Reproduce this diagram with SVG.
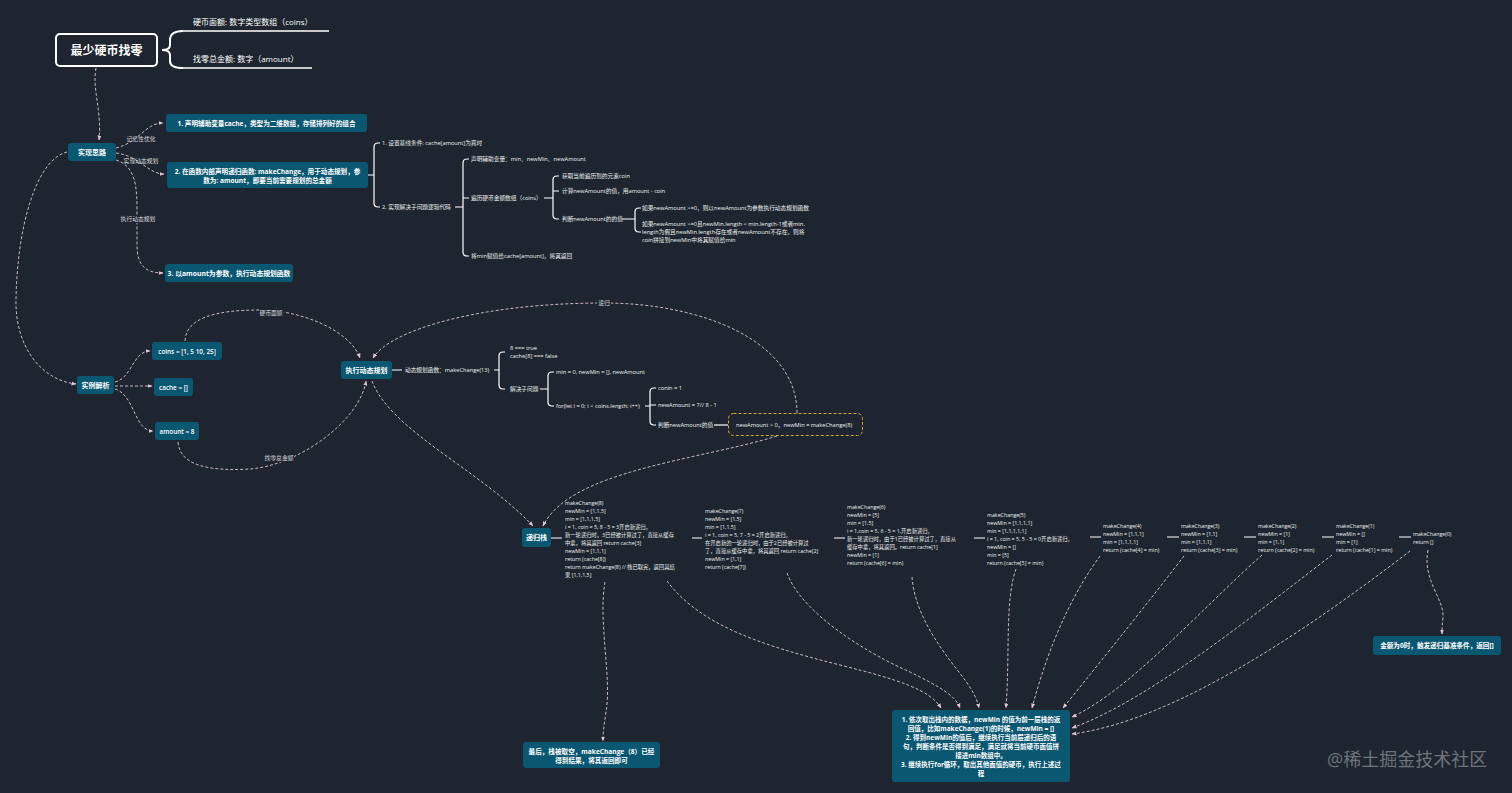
<svg xmlns="http://www.w3.org/2000/svg" width="1512" height="793" viewBox="0 0 1512 793">
<defs>
<style>
text{font-family:"Open Sans","Noto Sans CJK SC",sans-serif;dominant-baseline:central}
.n rect{fill:#0a5772}
.nt{fill:#fff;font-weight:700;font-size:7px;text-anchor:middle}
.tt{fill:#eef0f2;font-size:5.7px}
.st{fill:#eef0f2;font-size:5.3px}
.lb{fill:#d8d8dc;font-size:5.8px;text-anchor:middle}
.d{fill:none;stroke:#dcc8d2;stroke-width:0.9;stroke-dasharray:3 2;marker-end:url(#ah)}
.b{fill:none;stroke:#fff;stroke-width:1.2}
.lbg{fill:#1e2530}
.bt{font-size:6.5px}
</style>
<marker id="ah" viewBox="0 0 10 10" refX="9" refY="5" markerWidth="5" markerHeight="5" markerUnits="userSpaceOnUse" orient="auto"><path d="M0,1 L10,5 L0,9 z" fill="#dcc8d2"/></marker>
</defs>
<rect width="1512" height="793" fill="#1e2530"/>

<g id="connectors">
<path class="d" d="M96,68 C92,90 102,110 99,140"/>
<path class="d" d="M116,148 C140,142 145,123 163,123"/>
<path class="d" d="M116,153 C140,156 148,174 164,174"/>
<path class="d" d="M116,160 C135,166 137,185 137,210 L137,245 C137,265 145,273 163,273"/>
<path class="d" d="M67,152 C35,160 17,230 16,300 C15,345 40,380 76,384"/>
<path class="d" d="M115,382 C132,378 133,351 150,351"/>
<path class="d" d="M115,386 L152,386"/>
<path class="d" d="M115,389 C135,395 134,431 153,431"/>
<path class="d" d="M185,341 C186,318 215,310 260,310 C300,310 350,330 360,358"/>
<path class="d" d="M178,442 C180,468 215,471 250,469 C300,465 360,420 366,381"/>
<path class="d" d="M797,413 C797,340 700,303 604,303 C480,303 390,330 373,358"/>
<path class="d" d="M372,381 C390,430 480,470 533,526"/>
<path class="d" d="M777,436 C700,460 570,470 543,526"/>
<path class="d" d="M605,582 C598,620 612,680 606,712 C604,725 603,732 603,741"/>
<path class="d" d="M667,581 C700,625 760,645 840,665 C900,680 930,690 941,708"/>
<path class="d" d="M787,573 C800,610 860,650 910,672 C940,687 955,695 960,708"/>
<path class="d" d="M912,577 C915,620 950,660 965,680 C972,690 977,698 979,708"/>
<path class="d" d="M1016,569 C1005,600 1010,650 1006,708"/>
<path class="d" d="M1100,556 C1075,590 1050,640 1032,708"/>
<path class="d" d="M1184,556 C1150,600 1110,650 1063,708"/>
<path class="d" d="M1262,555 C1200,610 1130,690 1072,717"/>
<path class="d" d="M1332,555 C1260,610 1150,700 1072,728"/>
<path class="d" d="M1410,551 C1320,620 1180,720 1072,734"/>
<path class="d" d="M1428,550 C1422,580 1445,600 1443,618 C1442,625 1442,630 1442,634"/>
<text class="lb" x="141" y="139">记忆性优化</text>
<text class="lb" x="141" y="161">实现动态规划</text>
<rect class="lbg" x="120" y="215" width="36" height="8"/>
<text class="lb" x="138" y="219">执行动态规划</text>
<rect class="lbg" x="259" y="309" width="25" height="8"/>
<text class="lb" x="271" y="313">硬币面额</text>
<rect class="lbg" x="264" y="454" width="30" height="8"/>
<text class="lb" x="279" y="458">找零总金额</text>
<rect class="lbg" x="597" y="299" width="14" height="8"/>
<text class="lb" x="604" y="303">递归</text>
<path class="b" d="M368,175 H374 M380,143 H378 Q374,143 374,147 V203 Q374,207 378,207 H380"/>
<path class="b" d="M455,207 H463 M469,159 H467 Q463,159 463,163 V252 Q463,256 467,256 H469 M463,198 H469"/>
<path class="b" d="M544,198 H553 M559,176 H557 Q553,176 553,180 V215 Q553,219 557,219 H559 M553,191 H559"/>
<path class="b" d="M622,219 H635 M641,208 H639 Q635,208 635,212 V228 Q635,232 639,232 H641"/>
<path class="b" d="M392,370 H402 M494,370 H499 M505,352 H503 Q499,352 499,356 V385 Q499,389 503,389 H505"/>
<path class="b" d="M540,389 H548 M554,372 H552 Q548,372 548,376 V402 Q548,406 552,406 H554"/>
<path class="b" d="M645,406 H650 M656,388 H654 Q650,388 650,392 V421 Q650,425 654,425 H656 M650,405 H656"/>
<path class="b" d="M714,425 H728"/>
<path class="b" d="M551,538 H562 M692,538 H702 M834,538 H845 M974,538 H985 M1090,537 H1101 M1167,537 H1179 M1244,537 H1256 M1322,537 H1334 M1399,537 H1411"/>
<path d="M183,31 C174,31 170,34 170,40 L170,45 C170,49 167,50 162,50 C167,50 170,51 170,55 L170,61 C170,66 174,68 183,68" fill="none" stroke="#fff" stroke-width="2"/>
<path d="M183,31 H329 M183,68 H312" stroke="#fff" stroke-width="1.6" fill="none"/>
</g>

<g id="title">
<rect x="56" y="34" width="101" height="32" rx="4" fill="#1e2530" stroke="#fff" stroke-width="2"/>
<text x="106.5" y="50" style="fill:#fff;font-weight:700;font-size:12px;text-anchor:middle">最少硬币找零</text>
</g>
<g id="coins-def"><text x="193" y="21" style="fill:#fff;font-size:8px">硬币面额: 数字类型数组（coins）</text></g>
<g id="amount-def"><text x="193" y="58" style="fill:#fff;font-size:8px">找零总金额: 数字（amount）</text></g>

<g id="idea" class="n"><rect x="68" y="143" width="48" height="18" rx="3"/><text class="nt" x="92" y="152">实现思路</text></g>
<g id="step1" class="n"><rect x="166" y="114" width="201" height="18" rx="3"/><text class="nt" x="266.5" y="123" style="font-size:6.6px">1. 声明辅助变量cache，类型为二维数组，存储排列好的组合</text></g>
<g id="step2" class="n"><rect x="167" y="162" width="201" height="26" rx="3"/>
<text class="nt" x="267.5" y="171" style="font-size:6.6px">2. 在函数内部声明递归函数: makeChange，用于动态规划，参</text>
<text class="nt" x="267.5" y="180" style="font-size:6.6px">数为: amount，即要当前需要规划的总金额</text></g>
<g id="step3" class="n"><rect x="165" y="264" width="128" height="18" rx="3"/><text class="nt" x="229" y="273" style="font-size:6.8px">3. 以amount为参数，执行动态规划函数</text></g>

<g id="step2-tree">
<text class="tt" x="382" y="143">1. 设置基线条件: cache[amount]为真时</text>
<text class="tt" x="382" y="207">2. 实现解决子问题逻辑代码</text>
<text class="tt" x="471" y="159">声明辅助变量：min、newMin、newAmount</text>
<text class="tt" x="471" y="198">遍历硬币金额数组（coins）</text>
<text class="tt" x="471" y="256">将min赋值给cache[amount]，将其返回</text>
<text class="tt" x="562" y="176">获取当前遍历到的元素coin</text>
<text class="tt" x="562" y="191">计算newAmount的值，用amount - coin</text>
<text class="tt" x="562" y="219">判断newAmount的的值</text>
<text class="tt" x="642" y="208">如果newAmount &gt;=0，则以newAmount为参数执行动态规划函数</text>
<text class="tt" x="642" y="224">如果newAmount &gt;=0且newMin.length &lt; min.length-1或者min.</text>
<text class="tt" x="642" y="232">length为假且newMin.length存在或者newAmount不存在，则将</text>
<text class="tt" x="642" y="240">coin拼接到newMin中将其赋值给min</text>
</g>

<g id="example" class="n"><rect x="77" y="376" width="37" height="18" rx="3"/><text class="nt" x="95.5" y="385">实例解析</text></g>
<g id="coins" class="n"><rect x="152" y="342" width="70" height="18" rx="3"/><text class="nt" x="187" y="351" style="font-size:6.4px;font-weight:600">coins = [1, 5 10, 25]</text></g>
<g id="cache" class="n"><rect x="154" y="378" width="39" height="18" rx="3"/><text class="nt" x="173.5" y="387" style="font-size:6.4px;font-weight:600">cache = []</text></g>
<g id="amount" class="n"><rect x="155" y="422" width="44" height="18" rx="3"/><text class="nt" x="177" y="431" style="font-size:6.4px;font-weight:600">amount = 8</text></g>
<g id="run" class="n"><rect x="341" y="361" width="51" height="18" rx="3"/><text class="nt" x="366.5" y="370">执行动态规划</text></g>

<g id="run-tree">
<text class="tt" x="405" y="370">动态规划函数：makeChange(13)</text>
<text class="tt" x="510" y="348">8 === true</text>
<text class="tt" x="510" y="356">cache[8] === false</text>
<text class="tt" x="510" y="389">解决子问题</text>
<text class="tt" x="556" y="372">min = 0, newMin = [], newAmount</text>
<text class="tt" x="556" y="406">for(let i = 0; i &lt; coins.length; i++)</text>
<text class="tt" x="658" y="388">conin = 1</text>
<text class="tt" x="658" y="405">newAmount = 7// 8 - 1</text>
<text class="tt" x="658" y="425">判断newAmount的值</text>
</g>
<g id="judge">
<rect x="728.5" y="413.5" width="134" height="22" rx="5" fill="none" stroke="#d4a72c" stroke-width="1" stroke-dasharray="3 2"/>
<text class="tt" x="736" y="425">newAmount &gt; 0，newMin = makeChange(8)</text>
</g>

<g id="stack" class="n"><rect x="522" y="528" width="29" height="19" rx="3"/><text class="nt" x="536.5" y="537.5">递归栈</text></g>

<g id="frame8">
<text class="st" x="565" y="503">makeChange(8)</text>
<text class="st" x="565" y="511">newMin = [1,1,5]</text>
<text class="st" x="565" y="519">min = [1,1,1,5]</text>
<text class="st" x="565" y="527">i = 1, coin = 5, 8 - 5 = 3开启新递归，</text>
<text class="st" x="565" y="535">新一轮递归时，3已经被计算过了，直接从缓存</text>
<text class="st" x="565" y="543">中拿，将其返回 return cache[3]</text>
<text class="st" x="565" y="551">newMin = [1,1,1]</text>
<text class="st" x="565" y="559">return (cache[8])</text>
<text class="st" x="565" y="567">return makeChange(8) // 栈已取完，返回其结</text>
<text class="st" x="565" y="575">果 [1,1,1,5]</text>
</g>
<g id="frame7">
<text class="st" x="705" y="511">makeChange(7)</text>
<text class="st" x="705" y="519">newMin = [1,5]</text>
<text class="st" x="705" y="527">min = [1,1,5]</text>
<text class="st" x="705" y="535">i = 1, coin = 5, 7 - 5  = 2开启新递归，</text>
<text class="st" x="705" y="543">在开启新的一轮递归时，由于2已经被计算过</text>
<text class="st" x="705" y="551">了，直接从缓存中拿，将其返回 return cache[2]</text>
<text class="st" x="705" y="559">newMin = [1,1]</text>
<text class="st" x="705" y="567">return (cache[7])</text>
</g>
<g id="frame6">
<text class="st" x="847" y="507">makeChange(6)</text>
<text class="st" x="847" y="515">newMin = [5]</text>
<text class="st" x="847" y="523">min = [1,5]</text>
<text class="st" x="847" y="531">i = 1,coin = 5, 6 - 5 = 1,开启新递归，</text>
<text class="st" x="847" y="539">新一轮递归时，由于1已经被计算过了，直接从</text>
<text class="st" x="847" y="547">缓存中拿，将其返回。return cache[1]</text>
<text class="st" x="847" y="555">newMin = [1]</text>
<text class="st" x="847" y="563">return (cache[6] = min)</text>
</g>
<g id="frame5">
<text class="st" x="987" y="515">makeChange(5)</text>
<text class="st" x="987" y="523">newMin = [1,1,1,1]</text>
<text class="st" x="987" y="531">min = [1,1,1,1,1]</text>
<text class="st" x="987" y="539">i = 1, coin = 5,  5 - 5 = 0开启新递归，</text>
<text class="st" x="987" y="547">newMin = []</text>
<text class="st" x="987" y="555">min = [5]</text>
<text class="st" x="987" y="563">return (cache[5] = min)</text>
</g>
<g id="frame4">
<text class="st" x="1103" y="526">makeChange(4)</text>
<text class="st" x="1103" y="534">newMin = [1,1,1]</text>
<text class="st" x="1103" y="542">min = [1,1,1,1]</text>
<text class="st" x="1103" y="550">return (cache[4] = min)</text>
</g>
<g id="frame3">
<text class="st" x="1181" y="526">makeChange(3)</text>
<text class="st" x="1181" y="534">newMin = [1,1]</text>
<text class="st" x="1181" y="542">min = [1,1,1]</text>
<text class="st" x="1181" y="550">return (cache[3] = min)</text>
</g>
<g id="frame2">
<text class="st" x="1258" y="526">makeChange(2)</text>
<text class="st" x="1258" y="534">newMin = [1]</text>
<text class="st" x="1258" y="542">min = [1,1]</text>
<text class="st" x="1258" y="550">return (cache[2] = min)</text>
</g>
<g id="frame1">
<text class="st" x="1336" y="526">makeChange(1)</text>
<text class="st" x="1336" y="534">newMin = []</text>
<text class="st" x="1336" y="542">min = [1]</text>
<text class="st" x="1336" y="550">return (cache[1] = min)</text>
</g>
<g id="frame0">
<text class="st" x="1413" y="534">makeChange(0)</text>
<text class="st" x="1413" y="542">return []</text>
</g>

<g id="final" class="n"><rect x="523" y="742" width="137" height="26" rx="3"/>
<text class="nt" x="591.5" y="751.5" style="font-size:6.6px">最后，栈被取空，makeChange（8）已经</text>
<text class="nt" x="591.5" y="760.5" style="font-size:6.6px">得到结果，将其返回即可</text></g>

<g id="unwind" class="n"><rect x="892" y="710" width="178" height="72" rx="3"/>
<text class="nt bt" x="981" y="719">1. 依次取出栈内的数据，newMin 的值为前一层栈的返</text>
<text class="nt bt" x="981" y="728">回值，比如makeChange(1)的时候，newMin = []</text>
<text class="nt bt" x="981" y="737">2. 得到newMin的值后，继续执行当前层递归后的语</text>
<text class="nt bt" x="981" y="746">句，判断条件是否得到满足，满足就将当前硬币面值拼</text>
<text class="nt bt" x="981" y="755">接进min数组中。</text>
<text class="nt bt" x="981" y="764">3. 继续执行for循环，取出其他面值的硬币，执行上述过</text>
<text class="nt bt" x="981" y="773">程</text></g>

<g id="base" class="n"><rect x="1373" y="636" width="128" height="19" rx="3"/><text class="nt" x="1437" y="645.5" style="font-size:6.6px">金额为0时，触发递归基准条件，返回[]</text></g>

<text x="1327" y="759" style="fill:#6f747c;font-size:18px">@稀土掘金技术社区</text>
</svg>
